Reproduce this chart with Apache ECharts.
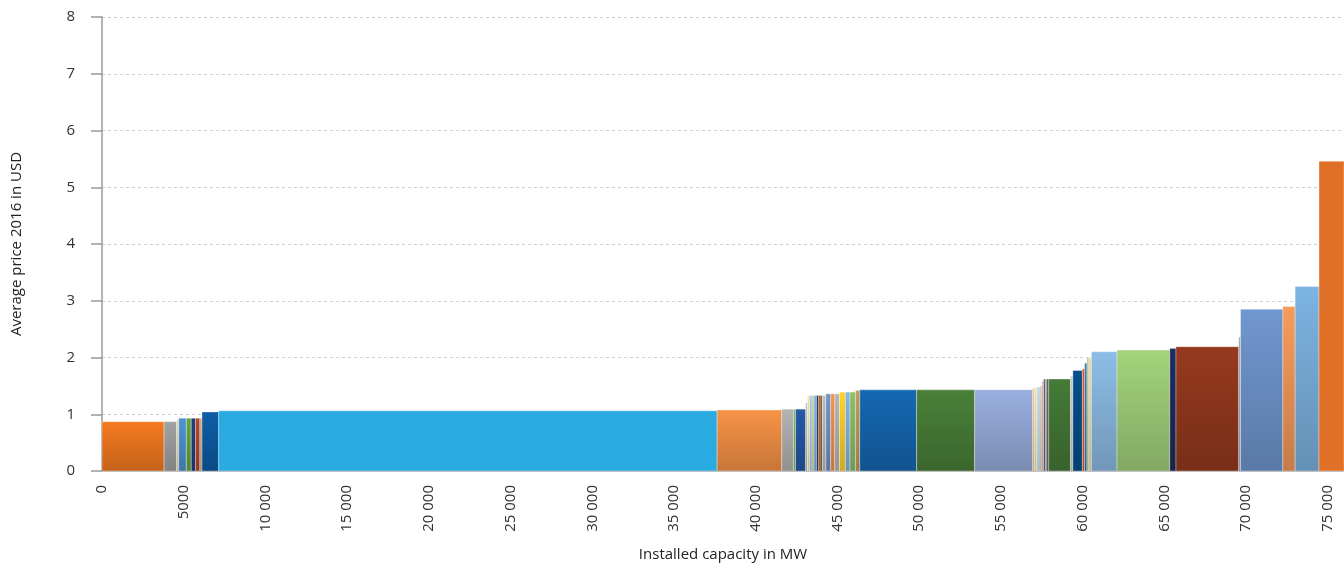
<!DOCTYPE html>
<html>
<head>
<meta charset="utf-8">
<script src="https://cdn.jsdelivr.net/npm/echarts@6/dist/echarts.min.js"></script>
<style>
html,body{margin:0;padding:0;background:#fff;}
#chart{width:1344px;height:566px;}
</style>
</head>
<body>
<div id="chart"></div>
<script>
// Installed capacity (MW) of each plant, in merit order
const capacity = [3800, 770, 120, 470, 300, 270, 260, 130, 1020, 30500,
  3960, 710, 130, 620, 110, 140, 140, 120, 150, 120,
  100, 140, 220, 290, 250, 290, 360, 280, 350, 250,
  3480, 3550, 3550, 120, 110, 100, 120, 120, 100, 110,
  100, 100, 1340, 140, 580, 140, 140, 120, 150, 1570,
  3230, 380, 3840, 110, 2590, 750, 1460, 1530];
// Average price 2016 in USD
const price = [0.87, 0.87, 0.90, 0.93, 0.93, 0.93, 0.93, 0.93, 1.04, 1.06,
  1.075, 1.09, 1.09, 1.09, 1.20, 1.33, 1.33, 1.33, 1.33, 1.33,
  1.33, 1.33, 1.33, 1.36, 1.36, 1.36, 1.39, 1.39, 1.39, 1.42,
  1.43, 1.43, 1.43, 1.46, 1.47, 1.48, 1.48, 1.50, 1.58, 1.62,
  1.62, 1.62, 1.62, 1.67, 1.77, 1.80, 1.90, 2.00, 2.00, 2.10,
  2.13, 2.16, 2.19, 2.36, 2.85, 2.90, 3.25, 5.46];
const colors = ['#F57A21', '#A3A3A3', '#E8D8A8', '#4F95D2', '#62A744', '#27407A', '#B2462A', '#C8A27A', '#0D5EA6', '#29ABE2',
  '#F79347', '#B4B4B4', '#7DBB5A', '#2559A8', '#BBBBBB', '#F3E4A3', '#9DC3E6', '#A9D18E', '#8FAADC', '#1F3864',
  '#843C0C', '#8A5A2A', '#BFBFBF', '#6F93CC', '#F4944D', '#B7B7B7', '#FFD42A', '#86B6E0', '#8CC16A', '#C19A5B',
  '#1568B3', '#4A8038', '#99AFDF', '#F6C199', '#E5E59B', '#C6E0B4', '#B4C7E7', '#E6B9A6', '#ADB9CA', '#595959',
  '#A5825F', '#203864', '#457B37', '#C9C9C9', '#054F8C', '#E9531E', '#2E75B6', '#A8D08D', '#F2D8A7', '#8DBDE6',
  '#A3D37C', '#1F2D5A', '#963A1E', '#A6A6A6', '#7197D0', '#F89B5A', '#7DB4E2', '#E07026'];
const flatBars = [9, 57];
const xTickStep = 5000;
const yTicks = [0, 1, 2, 3, 4, 5, 6, 7, 8];

function darken(hex, f) {
  const n = parseInt(hex.slice(1), 16);
  const r = Math.round(((n >> 16) & 255) * f), g = Math.round(((n >> 8) & 255) * f), b = Math.round((n & 255) * f);
  return 'rgb(' + r + ',' + g + ',' + b + ')';
}

const data = [];
let acc = 0;
for (let i = 0; i < capacity.length; i++) {
  data.push([acc, acc + capacity[i], price[i], i]);
  acc += capacity[i];
}

const chart = echarts.init(document.getElementById('chart'));
const font = 'Open Sans, Noto Sans, sans-serif';
chart.setOption({
  animation: false,
  grid: {left: 102, right: 0, top: 17, bottom: 95, containLabel: false, outerBoundsMode: 'none'},
  xAxis: {
    type: 'value', min: 0, max: 76000, interval: xTickStep,
    name: 'Installed capacity in MW', nameLocation: 'middle', nameGap: 76,
    nameTextStyle: {fontSize: 15, color: '#222', fontFamily: font},
    axisLine: {show: true, onZero: false, lineStyle: {color: '#b5b5b5', width: 2}},
    axisTick: {show: false},
    splitLine: {show: false},
    axisLabel: {
      rotate: 90, fontSize: 15, color: '#333', fontFamily: font, margin: 14,
      showMaxLabel: false,
      formatter: v => v >= 10000 ? String(v).replace(/\B(?=(\d{3})+(?!\d))/g, ' ') : String(v)
    }
  },
  yAxis: {
    type: 'value', min: yTicks[0], max: yTicks[yTicks.length - 1], interval: 1,
    name: 'Average price 2016 in USD', nameLocation: 'middle', nameGap: 78, nameRotate: 90,
    nameTextStyle: {fontSize: 15, color: '#222', fontFamily: font},
    axisLine: {show: true, lineStyle: {color: '#999', width: 1.5}},
    axisTick: {show: true, length: 11, lineStyle: {color: '#999', width: 1.5}},
    axisLabel: {fontSize: 15, color: '#333', fontFamily: font, margin: 27},
    splitLine: {show: true, lineStyle: {color: '#cfcfcf', type: [3, 3], width: 1}}
  },
  series: [{
    type: 'custom',
    data: data,
    encode: {x: [0, 1], y: 2},
    renderItem: function (params, api) {
      const p0 = api.coord([api.value(0), 0]);
      const p1 = api.coord([api.value(1), api.value(2)]);
      const i = api.value(3);
      const c = colors[i];
      const fill = flatBars.indexOf(i) >= 0 ? c : new echarts.graphic.LinearGradient(0, 0, 0, 1, [
        {offset: 0, color: c}, {offset: 1, color: darken(c, 0.8)}
      ]);
      return {
        type: 'rect',
        shape: {x: p0[0], y: p1[1], width: p1[0] - p0[0], height: p0[1] - p1[1]},
        style: {fill: fill, stroke: 'rgba(255,255,255,0.55)', lineWidth: 0.6}
      };
    }
  }]
});
</script>
</body>
</html>
